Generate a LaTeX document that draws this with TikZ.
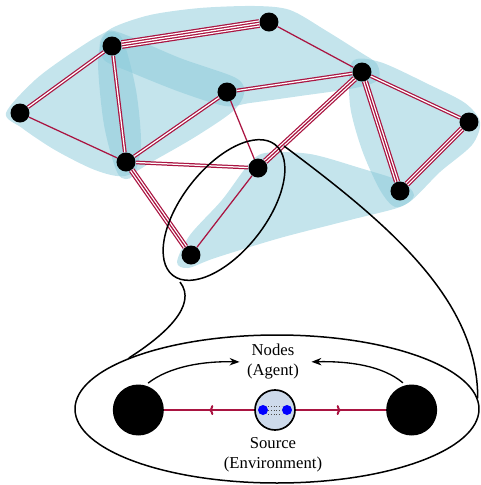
\documentclass[tikz,border=0pt]{standalone}
\usepackage{fontspec}
\setmainfont{Liberation Serif}
\usetikzlibrary{shapes, arrows.meta, positioning, decorations.markings}

\definecolor{hullblue}{RGB}{137,201,217}
\definecolor{linkred}{RGB}{170,20,65}
\definecolor{srcfill}{RGB}{205,218,235}

\begin{document}
\begin{tikzpicture}[x=0.6pt, y=-0.6pt,
        hull/.style={fill=hullblue, fill opacity=0.5},
        vertex/.style={circle, fill=black, inner sep=0pt, minimum size=11.4pt},
        link/.style={draw=linkred, line width=0.75pt},
        link2/.style={draw=linkred, line width=0.75pt, double=white, double distance=0.75pt},
        link3/.style={draw=linkred, line width=0.75pt,
            preaction={draw=linkred, line width=3.75pt},
            preaction={draw=white, line width=2.25pt}},
        link4/.style={draw=white, line width=0.75pt,
            preaction={draw=linkred, line width=5.25pt},
            preaction={draw=white, line width=3.75pt},
            preaction={draw=linkred, line width=2.25pt}},
        frame/.style={draw, line width=0.9pt},
        agent/.style={circle, fill=black, inner sep=0pt, minimum size=30.6pt},
        source/.style={circle, draw, line width=1pt, fill=srcfill, inner sep=0pt, minimum size=24pt},
        srcdot/.style={circle, fill=blue, inner sep=0pt, minimum size=6pt},
        srcline/.style={draw=linkred, line width=1.2pt, postaction={decorate},
            decoration={markings, mark=at position 0.5 with {\arrow{To[length=2.5pt, width=6pt]}}}},
        flow/.style={draw, line width=0.8pt, -{Stealth[length=6pt, width=4.5pt, inset=2pt]}}]
        \useasboundingbox (0,0) rectangle (481,485);

        % Hulls
        \fill[hull] plot[smooth cycle] coordinates {(6,113) (35,80) (70,54) (102,34) (118,32) (180,58) (236,78) (244,94) (232,112) (195,137) (155,160) (125,176) (95,170) (55,150) (22,128)};
        \fill[hull] plot[smooth cycle] coordinates {(100,42) (112,28) (150,15) (200,8) (255,6) (290,10) (325,30) (360,52) (377,64) (378,80) (355,88) (300,96) (250,103) (225,106) (180,92) (130,72) (104,60)};
        \fill[hull] plot[smooth cycle] coordinates {(352,62) (380,62) (430,85) (465,103) (480,122) (472,145) (440,172) (412,200) (395,207) (380,190) (362,150) (350,105)};
        \fill[hull] plot[smooth cycle] coordinates {(177,262) (190,235) (222,200) (248,165) (265,153) (310,154) (360,168) (400,181) (414,195) (400,207) (350,220) (280,238) (215,258) (188,268)};
        \fill[hull] plot[smooth cycle] coordinates {(106,34) (122,38) (136,90) (141,145) (133,176) (118,174) (104,125) (98,60)};

        % Vertices
        \node[vertex] (left) at (20,113) {};
        \node[vertex] (topleft) at (112,46) {};
        \node[vertex] (mid) at (227,92) {};
        \node[vertex] (top) at (269,22) {};
        \node[vertex] (hub) at (362,72) {};
        \node[vertex] (right) at (469,122) {};
        \node[vertex] (lowright) at (400,191) {};
        \node[vertex] (lowleft) at (126,162) {};
        \node[vertex] (center) at (258,168) {};
        \node[vertex] (bottom) at (191,255) {};

        % Links
        \draw[link2] (left) -- (topleft);
        \draw[link] (left) -- (lowleft);
        \draw[link2] (topleft) -- (lowleft);
        \draw[link4] (topleft) -- (top);
        \draw[link2] (lowleft) -- (mid);
        \draw[link2] (lowleft) -- (center);
        \draw[link3] (lowleft) -- (bottom);
        \draw[link] (mid) -- (center);
        \draw[link2] (mid) -- (hub);
        \draw[link] (top) -- (hub);
        \draw[link3] (hub) -- (center);
        \draw[link2] (hub) -- (right);
        \draw[link3] (hub) -- (lowright);
        \draw[link3] (right) -- (lowright);
        \draw[link] (center) -- (bottom);

        % Zoom
        \node[frame, ellipse, inner sep=0pt, minimum width=99.6pt, minimum height=50.4pt, rotate=52] (lens) at (224,210) {};
        \node[frame, ellipse, inner sep=0pt, minimum width=242.4pt, minimum height=88.8pt] (closeup) at (277,409) {};
        \coordinate (lensfoot) at (180,282);
        \coordinate (lenstip) at (284,146);
        \draw[frame] (lensfoot) .. controls (198,305) and (165,335) .. (closeup.161);
        \draw[frame] (lenstip) .. controls (390,225) and (478,300) .. (closeup.3);

        % Source and agents
        \node[source] (src) at (275,410) {};
        \node[agent, left of=src, node distance=82pt] (agentL) {};
        \node[agent, right of=src, node distance=82pt] (agentR) {};
        \node[srcdot] (dotL) at (263,410) {};
        \node[srcdot, right of=dotL, node distance=14.4pt] (dotR) {};
        \draw[densely dotted, line width=0.6pt, black!70] ([yshift=2.4pt]dotL.east) -- ([yshift=2.4pt]dotR.west);
        \draw[densely dotted, line width=0.6pt, black!70] (dotL) -- (dotR);
        \draw[densely dotted, line width=0.6pt, black!70] ([yshift=-2.4pt]dotL.east) -- ([yshift=-2.4pt]dotR.west);
        \draw[srcline] (src) -- (agentL);
        \draw[srcline] (src) -- (agentR);

        % Labels
        \node[align=center] (agentlbl) at (273,362) {Nodes\\(Agent)};
        \node[align=center] (srclbl) at (273,455) {Source\\(Environment)};
        \draw[flow, shorten <=2pt, shorten >=1pt] (agentL.74) .. controls (170,366) and (205,361) .. (agentlbl.west);
        \draw[flow, shorten <=2pt, shorten >=4pt] (agentR.104) .. controls (383,366) and (350,361) .. (agentlbl.east);
\end{tikzpicture}
\end{document}
